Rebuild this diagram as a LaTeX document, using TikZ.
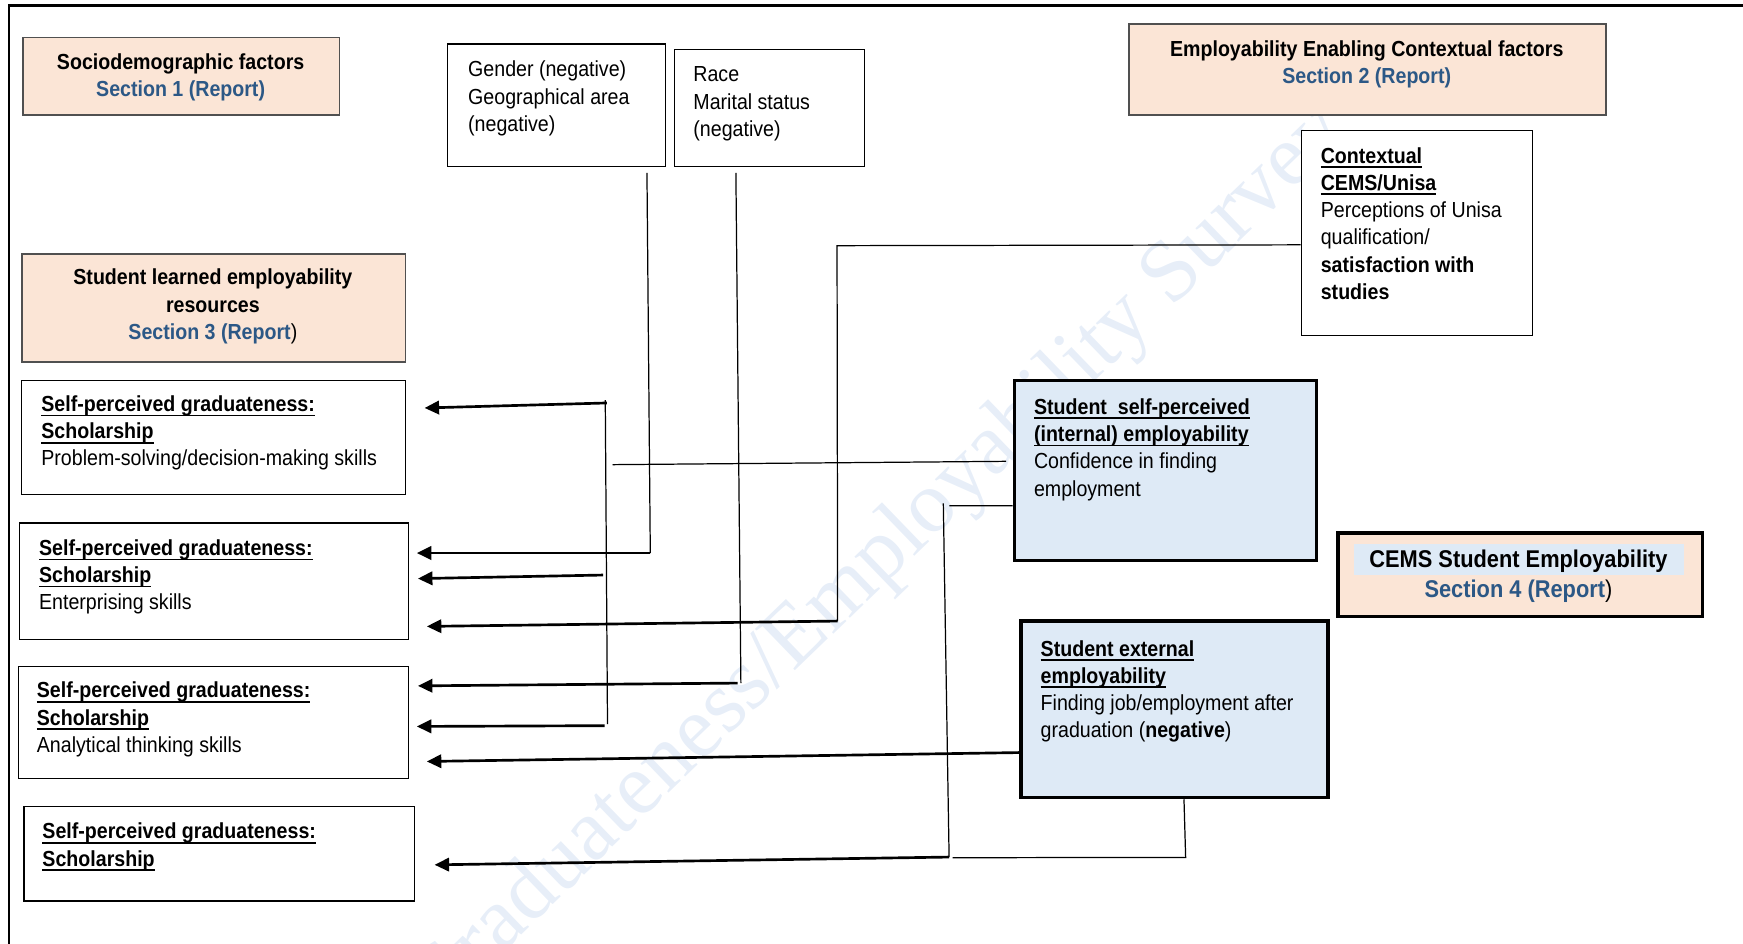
\documentclass[tikz,border=0pt]{standalone}
\usepackage{fontspec}
\setmainfont{Liberation Sans}[FakeStretch=0.9]
\newfontfamily\wmfont{Liberation Serif}
\usetikzlibrary{arrows.meta}

\definecolor{peach}{RGB}{251,229,214}
\definecolor{paleblue}{RGB}{222,234,246}
\definecolor{secblue}{RGB}{44,88,134}
\definecolor{peachline}{RGB}{80,80,80}
\definecolor{wmblue}{RGB}{231,238,248}

% underline drawn at a fixed depth below the baseline
\newsavebox{\ulbox}
\newcommand{\uln}[1]{\sbox{\ulbox}{#1}\rlap{\rule[-4.3pt]{\wd\ulbox}{1.5pt}}\usebox{\ulbox}}
% strut fixing the height of the first line of a text block
\newcommand{\lnstrut}{\rule{0pt}{16pt}}
\newcommand{\lnstrutbig}{\rule{0pt}{17.8pt}}

\begin{document}
\begin{tikzpicture}[x=1pt,y=-1pt,
  basefont/.style={font=\fontsize{19.6pt}{24.5pt}\selectfont},
  anybox/.style={anchor=north west, inner sep=0pt},
  peachbox/.style={anybox, draw=peachline, line width=1.3pt, fill=peach},
  plainbox/.style={anybox, draw=black, line width=1.1pt, fill=white},
  bluebox/.style={anybox, draw=black, line width=3pt, fill=paleblue},
  cemsbox/.style={anybox, draw=black, line width=3pt, fill=peach},
  txtl/.style={basefont, anchor=north west, inner sep=0pt, align=left},
  txtc/.style={basefont, anchor=north, inner sep=0pt, align=center},
  thinline/.style={draw=black, line width=1.1pt},
  arrline/.style={draw=black, line width=2.4pt, -{Triangle[length=13pt,width=12pt]}},
  wm/.style={font=\wmfont\fontsize{79pt}{79pt}\selectfont, text=wmblue,
    anchor=base west, rotate=44, inner sep=0pt}
]
\useasboundingbox (0,0) rectangle (1568,849);

% watermark
\begin{scope}
  \clip (0,0) rectangle (1568,849);
  \node[wm] (wm) at (392,916) {Graduateness/Employability Survey};
\end{scope}

% frame
\draw[line width=2pt] (8,849) -- (8,5) -- (1568,5);

% section header boxes
\node[peachbox, minimum width=285pt, minimum height=70pt] (socio) at (20,33) {};
\node[txtc] (socio-t) at (162.5,46.5) {\lnstrut\textbf{Sociodemographic factors}\\
  \textbf{\textcolor{secblue}{Section 1 (Report)}}};

\node[peachbox, minimum width=429pt, minimum height=82pt] (enabling) at (1015,21) {};
\node[txtc] (enabling-t) at (1229.5,34.5) {\lnstrut\textbf{Employability Enabling Contextual factors}\\
  \textbf{\textcolor{secblue}{Section 2 (Report)}}};

\node[peachbox, minimum width=345pt, minimum height=97pt] (learned) at (19,228) {};
\node[txtc] (learned-t) at (191.5,240) {\lnstrut\textbf{Student learned employability}\\
  \textbf{resources}\\ \textbf{\textcolor{secblue}{Section 3 (Report}})};

\node[cemsbox, minimum width=328pt, minimum height=75pt] (cems) at (1202,478) {};
\node[anybox, fill=paleblue, minimum width=297pt, minimum height=28pt] (cems-hl) at (1218,489) {};
\node[anchor=north, inner sep=0pt, align=center, font=\fontsize{21.8pt}{27.2pt}\selectfont]
  (cems-t) at (1366,492.2) {\lnstrutbig\textbf{CEMS Student Employability}\\
  \textbf{\textcolor{secblue}{Section 4 (Report}})};

% factor boxes
\node[plainbox, minimum width=196pt, minimum height=110pt] (gender) at (402,39) {};
\node[txtl] (gender-t) at (421,53) {\lnstrut Gender (negative)\\ Geographical area\\ (negative)};

\node[plainbox, minimum width=171pt, minimum height=105pt] (race) at (606,44) {};
\node[txtl] (race-t) at (623.6,57.5) {\lnstrut Race\\ Marital status\\ (negative)};

\node[plainbox, minimum width=208pt, minimum height=184pt] (ctx) at (1170,117) {};
\node[txtl] (ctx-t) at (1188,130.5) {\lnstrut\uln{\textbf{Contextual}}\\ \uln{\textbf{CEMS/Unisa}}\\
  Perceptions of Unisa\\ qualification/\\ \textbf{satisfaction with}\\ \textbf{studies}};

% graduateness boxes
\node[plainbox, minimum width=345pt, minimum height=102pt] (spg1) at (19,342) {};
\node[txtl] (spg1-t) at (37,354) {\lnstrut\uln{\textbf{Self-perceived graduateness:}}\\
  \uln{\textbf{Scholarship}}\\ Problem-solving/decision-making skills};

\node[plainbox, minimum width=350pt, minimum height=105pt] (spg2) at (17,470) {};
\node[txtl] (spg2-t) at (35,483.5) {\lnstrut\uln{\textbf{Self-perceived graduateness:}}\\
  \uln{\textbf{Scholarship}}\\ Enterprising skills};

\node[plainbox, minimum width=351pt, minimum height=101pt] (spg3) at (16,599) {};
\node[txtl] (spg3-t) at (33,611.5) {\lnstrut\uln{\textbf{Self-perceived graduateness:}}\\
  \uln{\textbf{Scholarship}}\\ Analytical thinking skills};

\node[plainbox, minimum width=351pt, minimum height=85pt] (spg4) at (21,725) {};
\node[txtl] (spg4-t) at (38,738.5) {\lnstrut\uln{\textbf{Self-perceived graduateness:}}\\
  \uln{\textbf{Scholarship}}};

% employability outcome boxes
\node[bluebox, minimum width=272pt, minimum height=162pt] (internal) at (911,341) {};
\node[txtl] (internal-t) at (930,356.5) {\lnstrut\uln{\textbf{Student\ \ self-perceived}}\\
  \uln{\textbf{(internal) employability}}\\ Confidence in finding\\ employment};

\node[bluebox, minimum width=276pt, minimum height=159pt] (external) at (917,557) {};
\node[txtl] (external-t) at (936,574) {\lnstrut\uln{\textbf{Student external}}\\
  \uln{\textbf{employability}}\\ Finding job/employment after\\ graduation (\textbf{negative})};

% junction points and arrow ends
\coordinate (g-top) at (582,155.5);
\coordinate (g-bot) at (585,497.5);
\coordinate (r-top) at (662,155.5);
\coordinate (r-bot) at (666.5,614.5);
\coordinate (r-end) at (663.5,614.5);
\coordinate (c-top) at (753,221);
\coordinate (c-bot) at (753.5,558.7);
\coordinate (v1-top) at (544.5,360);
\coordinate (v1-bot) at (546.5,651.5);
\coordinate (j1) at (546,362.5);
\coordinate (j3) at (542.5,517.3);
\coordinate (j6) at (544,652.8);
\coordinate (f-left) at (551,418);
\coordinate (f-right) at (905,415);
\coordinate (i-mid) at (854,455);
\coordinate (v5-top) at (848.6,452.8);
\coordinate (v5-bot) at (853.8,771);
\coordinate (b-left) at (857,771.6);
\coordinate (b-right) at (1066.6,771.3);
\coordinate (t1) at (382,367);
\coordinate (t2) at (375,497.5);
\coordinate (t3) at (376,520.5);
\coordinate (t4) at (384,563.5);
\coordinate (t5) at (376,617);
\coordinate (t6) at (375,653.5);
\coordinate (t7) at (384,685);
\coordinate (t8) at (391,778);

% thin connector lines
\draw[thinline] (g-top) -- (g-bot);
\draw[thinline] (r-top) -- (r-bot);
\draw[thinline] ([yshift=-10.7pt]ctx.west) -- (c-top) -- (c-bot);
\draw[thinline] (v1-top) -- (v1-bot);
\draw[thinline] (f-left) -- (f-right);
\draw[thinline] ([yshift=-31.4pt]internal.west) -- (i-mid);
\draw[thinline] (v5-top) -- (v5-bot);
\draw[thinline] ([xshift=8.6pt]external.south) -- (b-right) -- (b-left);

% arrows into the graduateness boxes
\draw[arrline] (j1) -- (t1);
\draw[arrline] (g-bot) -- (t2);
\draw[arrline] (j3) -- (t3);
\draw[arrline] (c-bot) -- (t4);
\draw[arrline] (r-end) -- (t5);
\draw[arrline] (j6) -- (t6);
\draw[arrline] ([yshift=-39pt]external.west) -- (t7);
\draw[arrline] (v5-bot) -- (t8);
\end{tikzpicture}
\end{document}
